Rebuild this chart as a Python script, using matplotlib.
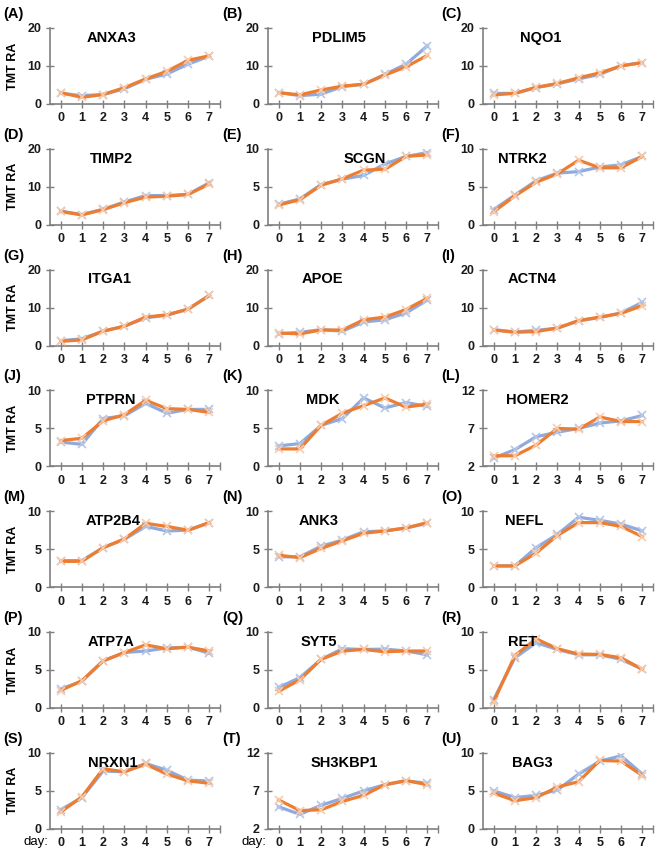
import numpy as np
import matplotlib as mpl
mpl.use('Agg')
import matplotlib.pyplot as plt

plt.rcParams['font.family'] = ['Liberation Sans', 'DejaVu Sans']

days = [0, 1, 2, 3, 4, 5, 6, 7]

genes = ['ANXA3', 'PDLIM5', 'NQO1', 'TIMP2', 'SCGN', 'NTRK2', 'ITGA1',
         'APOE', 'ACTN4', 'PTPRN', 'MDK', 'HOMER2', 'ATP2B4', 'ANK3',
         'NEFL', 'ATP7A', 'SYT5', 'RET', 'NRXN1', 'SH3KBP1', 'BAG3']
letters = ['(A)', '(B)', '(C)', '(D)', '(E)', '(F)', '(G)', '(H)', '(I)',
           '(J)', '(K)', '(L)', '(M)', '(N)', '(O)', '(P)', '(Q)', '(R)',
           '(S)', '(T)', '(U)']

# blue series
blue = [
    [2.8, 2.2, 2.5, 4.0, 6.5, 7.9, 10.5, 12.6],
    [3.0, 2.2, 2.6, 4.6, 5.2, 7.8, 10.5, 15.3],
    [2.8, 2.8, 4.3, 5.3, 6.6, 7.8, 10.1, 10.9],
    [3.6, 2.7, 4.1, 6.0, 7.7, 7.7, 8.0, 11.1],
    [2.7, 3.4, 5.3, 6.0, 6.5, 8.0, 9.0, 9.5],
    [2.0, 3.9, 5.8, 6.8, 7.0, 7.6, 7.9, 9.0],
    [1.3, 1.8, 3.8, 5.1, 7.3, 8.0, 9.6, 13.2],
    [3.1, 3.5, 4.2, 3.8, 6.2, 6.8, 8.6, 12.0],
    [4.2, 3.6, 4.0, 4.6, 6.5, 7.4, 8.6, 11.4],
    [3.2, 2.9, 6.3, 6.65, 8.3, 7.0, 7.5, 7.5],
    [2.7, 3.0, 5.4, 6.3, 9.0, 7.7, 8.4, 7.9],
    [3.1, 4.2, 5.9, 6.5, 7.0, 7.7, 8.0, 8.7],
    [3.5, 3.5, 5.2, 6.3, 8.0, 7.4, 7.5, 8.5],
    [4.0, 4.0, 5.4, 6.2, 7.3, 7.4, 7.8, 8.4],
    [2.8, 2.8, 5.2, 6.95, 9.2, 8.8, 8.3, 7.4],
    [2.5, 3.5, 6.2, 7.3, 7.5, 7.9, 8.0, 7.2],
    [2.7, 4.0, 6.4, 7.8, 7.7, 7.75, 7.5, 7.0],
    [1.1, 6.6, 8.6, 7.7, 7.0, 7.0, 6.4, 5.1],
    [2.5, 4.1, 7.6, 7.5, 8.6, 7.7, 6.4, 6.3],
    [4.9, 3.9, 5.1, 6.0, 7.0, 7.8, 8.3, 8.0],
    [5.0, 4.1, 4.4, 5.1, 7.2, 8.9, 9.6, 7.2],
]

# orange series
orange = [
    [3.0, 1.75, 2.5, 4.3, 6.6, 8.6, 11.5, 12.7],
    [3.0, 2.4, 3.7, 4.7, 5.2, 7.6, 9.8, 12.8],
    [2.4, 2.8, 4.4, 5.4, 6.9, 8.2, 10.0, 10.9],
    [3.5, 2.6, 4.0, 5.8, 7.3, 7.5, 8.0, 10.7],
    [2.6, 3.3, 5.2, 6.05, 7.2, 7.3, 9.0, 9.2],
    [1.7, 3.8, 5.6, 6.7, 8.5, 7.5, 7.5, 9.0],
    [1.1, 1.5, 3.8, 5.1, 7.5, 8.1, 9.6, 13.2],
    [3.3, 3.1, 4.1, 4.1, 6.8, 7.5, 9.5, 12.5],
    [4.1, 3.5, 3.7, 4.6, 6.6, 7.5, 8.5, 10.5],
    [3.4, 3.7, 6.0, 6.8, 8.7, 7.6, 7.5, 7.1],
    [2.3, 2.3, 5.4, 7.0, 8.0, 9.0, 7.8, 8.2],
    [3.4, 3.4, 4.8, 7.0, 6.9, 8.5, 7.9, 7.9],
    [3.4, 3.4, 5.2, 6.35, 8.4, 8.0, 7.5, 8.5],
    [4.2, 3.9, 5.1, 6.1, 7.1, 7.4, 7.8, 8.5],
    [2.8, 2.8, 4.5, 6.8, 8.5, 8.5, 8.0, 6.65],
    [2.3, 3.6, 6.2, 7.3, 8.3, 7.8, 8.0, 7.5],
    [2.2, 3.7, 6.4, 7.5, 7.7, 7.4, 7.5, 7.5],
    [0.8, 6.9, 9.1, 7.8, 7.1, 7.05, 6.6, 5.1],
    [2.2, 4.2, 7.9, 7.5, 8.5, 7.2, 6.3, 6.0],
    [5.8, 4.4, 4.5, 5.6, 6.4, 7.8, 8.35, 7.8],
    [4.7, 3.7, 4.1, 5.5, 6.2, 9.0, 8.9, 7.0],
]

# y axis ranges (min, max, step)
yranges = [(0, 20, 10), (0, 20, 10), (0, 20, 10),
           (0, 20, 10), (0, 10, 5), (0, 10, 5),
           (0, 20, 10), (0, 20, 10), (0, 20, 10),
           (0, 10, 5), (0, 10, 5), (2, 12, 5),
           (0, 10, 5), (0, 10, 5), (0, 10, 5),
           (0, 10, 5), (0, 10, 5), (0, 10, 5),
           (0, 10, 5), (2, 12, 5), (0, 10, 5)]

# title x position (axes fraction)
title_x = [0.36, 0.42, 0.34, 0.36, 0.57, 0.23, 0.35, 0.32, 0.29, 0.36, 0.32,
           0.32, 0.37, 0.30, 0.24, 0.36, 0.30, 0.23, 0.37, 0.45, 0.29]

W, H = 660, 852
fig = plt.figure(figsize=(W / 100, H / 100), dpi=100)

col_left = [50, 268, 483]
col_lab = [3, 222, 441]
ax_w = 170
ax_h = 76
row_top0 = 28
row_step = 120.8

axcol = '#7f7f7f'
c_blue = '#8faadc'
c_blue_m = '#b4c7e7'
c_or = '#ed7d31'
c_or_m = '#f8cbad'

for i in range(len(genes)):
    r, c = divmod(i, 3)
    top = row_top0 + r * row_step
    ax = fig.add_axes([col_left[c] / W, 1 - (top + ax_h) / H, ax_w / W, ax_h / H])

    ax.plot(days, blue[i], color=c_blue, lw=2.3, marker='x', ms=6, mew=1.2,
            mec=c_blue_m, zorder=3)
    ax.plot(days, orange[i], color=c_or, lw=2.3, marker='x', ms=6, mew=1.2,
            mec=c_or_m, zorder=4)

    ymin, ymax, ystep = yranges[i]
    ax.set_ylim(ymin, ymax)
    ax.set_yticks(np.arange(ymin, ymax + 0.1, ystep))
    ax.set_xlim(-0.5, 7.5)
    ax.set_xticks(days + [7.5])
    ax.set_xticklabels([str(d) for d in days] + [''])

    for s in ['top', 'right']:
        ax.spines[s].set_visible(False)
    for s in ['left', 'bottom']:
        ax.spines[s].set_color(axcol)
        ax.spines[s].set_linewidth(1.2)
    ax.tick_params(direction='inout', length=6, width=1, color=axcol,
                   labelsize=9, pad=3, labelcolor='#1a1a1a')
    for lab in ax.get_xticklabels() + ax.get_yticklabels():
        lab.set_fontweight('bold')

    ax.text(title_x[i], 0.87, genes[i], transform=ax.transAxes, ha='center',
            va='center', fontsize=10.5, fontweight='bold', zorder=6)

    fig.text(col_lab[c] / W, 1 - (top - 14) / H, letters[i], ha='left',
             va='center', fontsize=10.5, fontweight='bold')

    if c == 0:
        ax.set_ylabel('TMT RA', fontsize=9, fontweight='bold')
        ax.yaxis.set_label_coords(-0.18, 0.5)
    if i in (18, 19):
        ax.text(-0.6, -0.17, 'day:', transform=ax.get_xaxis_transform(),
                ha='right', va='center', fontsize=9.5)

fig.savefig('out.png', dpi=100)
